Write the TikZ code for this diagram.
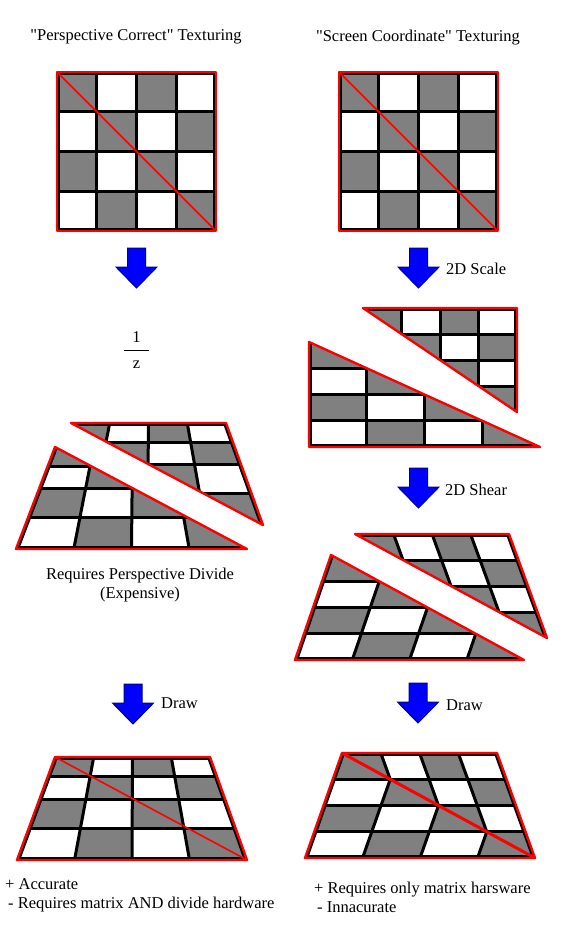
\documentclass[tikz,border=0pt]{standalone}
\usepackage{fontspec}
\setmainfont{Liberation Serif}
\usepackage{tikz}
\usetikzlibrary{calc}

\definecolor{texgray}{RGB}{128,128,128}
\definecolor{arrowblue}{RGB}{0,0,255}
\definecolor{arrowrim}{RGB}{0,0,140}

% row positions: plain and perspective-divided
\newcommand{\evenrows}{0/0,1/.25,2/.5,3/.75,4/1}
\newcommand{\deeprows}{0/0,1/.19,2/.41,3/.69,4/1}

% 4x4 checker on a quad (tl,tr,br,bl), rows from #5
\newcommand{\checkquad}[5]{%
  \foreach \i in {0,...,4}{
    \coordinate (qt\i) at ($(#1)!\i/4!(#2)$);
    \coordinate (qb\i) at ($(#4)!\i/4!(#3)$);
    \foreach \j/\s in #5
      \coordinate (g\i\j) at ($(qt\i)!\s!(qb\i)$);
  }
  \foreach \i in {0,...,3}
    \foreach \j in {0,...,3}{
      \pgfmathtruncatemacro{\ia}{\i+1}
      \pgfmathtruncatemacro{\ja}{\j+1}
      \pgfmathtruncatemacro{\cellodd}{mod(\i+\j,2)}
      \ifnum\cellodd=0
        \fill[texgray] (g\i\j) -- (g\ia\j) -- (g\ia\ja) -- (g\i\ja) -- cycle;
      \fi
    }
  \foreach \k/\w in {0/6,1/3,2/3,3/3,4/6}{
    \draw[line width=\w pt] (g\k0) -- (g\k4);
    \draw[line width=\w pt] (g0\k) -- (g4\k);
  }
}

\begin{document}
\begin{tikzpicture}[x=1pt,y=-1pt,
  rim/.style={red,line width=2.4pt,line join=round},
  slash/.style={red,line width=1.6pt},
  blockarrow/.style={fill=arrowblue,draw=arrowrim,line width=1pt},
  lbl/.style={font=\fontsize{16.5}{19}\selectfont,inner sep=0pt},
  downarrow/.pic={\draw[blockarrow] (-9,0) -- (9,0) -- (9,19) -- (20.5,19)
    -- (0,40) -- (-20.5,19) -- (-9,19) -- cycle;}]

\useasboundingbox (0,0) rectangle (564,935);

% titles
\node[lbl] (ttlL) at (136,37)
  {\textquotedbl Perspective Correct\textquotedbl{} Texturing};
\node[lbl] (ttlR) at (418,38)
  {\textquotedbl Screen Coordinate\textquotedbl{} Texturing};

% source textures
\coordinate (sL1) at (57,72);  \coordinate (sL2) at (216,72);
\coordinate (sL3) at (216,231); \coordinate (sL4) at (57,231);
\begin{scope}
  \clip (sL1) -- (sL2) -- (sL3) -- (sL4) -- cycle;
  \checkquad{sL1}{sL2}{sL3}{sL4}{\evenrows}
\end{scope}
\draw[rim] (sL1) -- (sL2) -- (sL3) -- (sL4) -- cycle;
\draw[slash] (sL1) -- (sL3);

\coordinate (sR1) at (339,72);  \coordinate (sR2) at (498,72);
\coordinate (sR3) at (498,231); \coordinate (sR4) at (339,231);
\begin{scope}
  \clip (sR1) -- (sR2) -- (sR3) -- (sR4) -- cycle;
  \checkquad{sR1}{sR2}{sR3}{sR4}{\evenrows}
\end{scope}
\draw[rim] (sR1) -- (sR2) -- (sR3) -- (sR4) -- cycle;
\draw[slash] (sR1) -- (sR3);

% left column: divide by z
\pic (arrL1) at (136.5,248) {downarrow};
\node[lbl] (invOne) at (136.5,337) {1};
\node[lbl] (invZ) at (136.5,365) {z};
\draw[line width=0.8pt] (124,350) -- (149,350);

\coordinate (pl1) at (55,447);  \coordinate (pl2) at (210,447);
\coordinate (pl3) at (247,549); \coordinate (pl4) at (16,549);
\begin{scope}
  \clip (pl1) -- (pl3) -- (pl4) -- cycle;
  \checkquad{pl1}{pl2}{pl3}{pl4}{\deeprows}
\end{scope}
\draw[rim] (pl1) -- (pl3) -- (pl4) -- cycle;

\coordinate (pu1) at (71,423);  \coordinate (pu2) at (226,423);
\coordinate (pu3) at (263,525); \coordinate (pu4) at (32,525);
\begin{scope}
  \clip (pu1) -- (pu2) -- (pu3) -- cycle;
  \checkquad{pu1}{pu2}{pu3}{pu4}{\deeprows}
\end{scope}
\draw[rim] (pu1) -- (pu2) -- (pu3) -- cycle;

\node[lbl,align=center] (noteDiv) at (140,585)
  {Requires Perspective Divide\\(Expensive)};

% right column: 2D scale
\pic (arrR1) at (418.5,248) {downarrow};
\node[lbl,anchor=west] (lblScale) at (446,269) {2D Scale};

\coordinate (ku1) at (363,308); \coordinate (ku2) at (517,308);
\coordinate (ku3) at (517,412); \coordinate (ku4) at (363,412);
\begin{scope}
  \clip (ku1) -- (ku2) -- (ku3) -- cycle;
  \checkquad{ku1}{ku2}{ku3}{ku4}{\evenrows}
\end{scope}
\draw[rim] (ku1) -- (ku2) -- (ku3) -- cycle;

\coordinate (kl1) at (309,342); \coordinate (kl2) at (540,342);
\coordinate (kl3) at (540,447); \coordinate (kl4) at (309,447);
\begin{scope}
  \clip (kl1) -- (kl3) -- (kl4) -- cycle;
  \checkquad{kl1}{kl2}{kl3}{kl4}{\evenrows}
\end{scope}
\draw[rim] (kl1) -- (kl3) -- (kl4) -- cycle;

% right column: 2D shear
\pic (arrR2) at (418.5,468) {downarrow};
\node[lbl,anchor=west] (lblShear) at (445,490) {2D Shear};

\coordinate (hu1) at (355,534); \coordinate (hu2) at (509,534);
\coordinate (hu3) at (547,638); \coordinate (hu4) at (393,638);
\begin{scope}
  \clip (hu1) -- (hu2) -- (hu3) -- cycle;
  \checkquad{hu1}{hu2}{hu3}{hu4}{\evenrows}
\end{scope}
\draw[rim] (hu1) -- (hu2) -- (hu3) -- cycle;

\coordinate (hl1) at (331,555); \coordinate (hl2) at (560,555);
\coordinate (hl3) at (524,660); \coordinate (hl4) at (295,660);
\begin{scope}
  \clip (hl1) -- (hl3) -- (hl4) -- cycle;
  \checkquad{hl1}{hl2}{hl3}{hl4}{\evenrows}
\end{scope}
\draw[rim] (hl1) -- (hl3) -- (hl4) -- cycle;

% draw step, left
\pic (arrL2) at (133,684) {downarrow};
\node[lbl,anchor=west] (lblDrawL) at (161,703) {Draw};

\coordinate (fl1) at (55,757);  \coordinate (fl2) at (210,757);
\coordinate (fl3) at (247,860); \coordinate (fl4) at (17,860);
\begin{scope}
  \clip (fl1) -- (fl2) -- (fl3) -- (fl4) -- cycle;
  \checkquad{fl1}{fl2}{fl3}{fl4}{\deeprows}
\end{scope}
\draw[rim] (fl1) -- (fl2) -- (fl3) -- (fl4) -- cycle;
\draw[slash] (fl1) -- (fl3);

% draw step, right
\pic (arrR3) at (418,683) {downarrow};
\node[lbl,anchor=west] (lblDrawR) at (446,705) {Draw};

\coordinate (fr1) at (342,753); \coordinate (fr2) at (497,753);
\coordinate (fr3) at (535,858); \coordinate (fr4) at (305,858);
\coordinate (fru) at (380,858); \coordinate (frl) at (572,753);
\begin{scope}
  \clip (fr1) -- (fr2) -- (fr3) -- cycle;
  \checkquad{fr1}{fr2}{fr3}{fru}{\evenrows}
\end{scope}
\begin{scope}
  \clip (fr1) -- (fr3) -- (fr4) -- cycle;
  \checkquad{fr1}{frl}{fr3}{fr4}{\evenrows}
\end{scope}
\draw[rim] (fr1) -- (fr2) -- (fr3) -- (fr4) -- cycle;
\draw[slash,line width=3pt] (fr1) -- (fr3);

% verdicts
\node[lbl,align=left,anchor=west] (prosL) at (5,895)
  {+ Accurate\\\hspace*{3pt}- Requires matrix AND divide hardware};
\node[lbl,align=left,anchor=west] (prosR) at (314,897)
  {+ Requires only matrix harsware\\\hspace*{3pt}- Innacurate};

\end{tikzpicture}
\end{document}
